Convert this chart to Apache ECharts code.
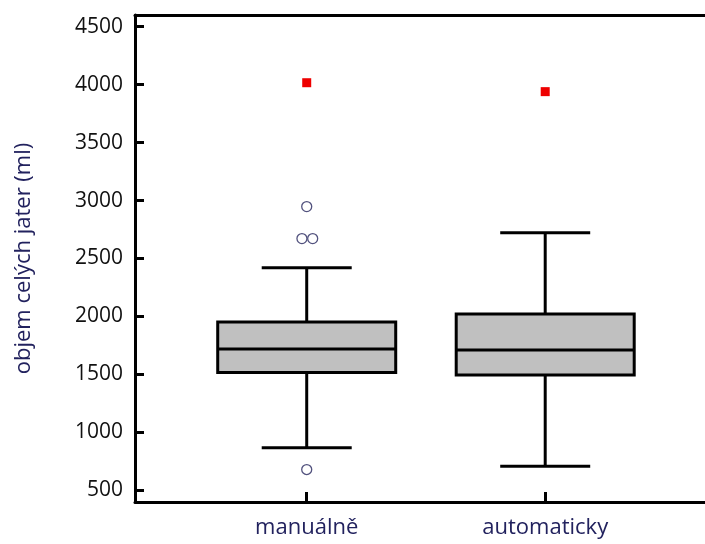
<!DOCTYPE html>
<html>
<head>
<meta charset="utf-8">
<script src="https://cdn.jsdelivr.net/npm/echarts@6/dist/echarts.min.js"></script>
<style>
  html, body { margin: 0; padding: 0; background: #fff; }
  #chart { width: 705px; height: 544px; }
</style>
</head>
<body>
<div id="chart"></div>
<script>
// values (ml)
const categories = ['manuálně', 'automaticky'];
const whiskerLow = [867, 709];
const q1 = [1517, 1495];
const median = [1719, 1711];
const q3 = [1952, 2022];
const whiskerHigh = [2421, 2721];
// outliers: [group position, value]; the two at 2672 sit side by side
const outliers = [[1, 2948], [0.98, 2672], [1.025, 2672], [1, 680]];
const extremes = [[1, 4016], [2, 3939]];
const yTicks = [500, 1000, 1500, 2000, 2500, 3000, 3500, 4000, 4500];
const xTicks = [1, 2];

const font = '"Open Sans", "Noto Sans", sans-serif';
const navy = '#22225e';

const boxData = categories.map((c, i) => [i + 1, whiskerLow[i], q1[i], median[i], q3[i], whiskerHigh[i]]);

function renderBox(params, api) {
    const x = api.value(0);
    const pLow = api.coord([x, api.value(1)]);
    const pQ1 = api.coord([x, api.value(2)]);
    const pMed = api.coord([x, api.value(3)]);
    const pQ3 = api.coord([x, api.value(4)]);
    const pHigh = api.coord([x, api.value(5)]);
    const half = 89;
    const capHalf = 45;
    const ls = { stroke: '#000', lineWidth: 3 };
    return {
        type: 'group',
        children: [
            { type: 'line', shape: { x1: pLow[0], y1: pLow[1], x2: pQ1[0], y2: pQ1[1] }, style: ls },
            { type: 'line', shape: { x1: pQ3[0], y1: pQ3[1], x2: pHigh[0], y2: pHigh[1] }, style: ls },
            { type: 'line', shape: { x1: pLow[0] - capHalf, y1: pLow[1], x2: pLow[0] + capHalf, y2: pLow[1] }, style: ls },
            { type: 'line', shape: { x1: pHigh[0] - capHalf, y1: pHigh[1], x2: pHigh[0] + capHalf, y2: pHigh[1] }, style: ls },
            {
                type: 'rect',
                shape: { x: pQ3[0] - half, y: pQ3[1], width: half * 2, height: pQ1[1] - pQ3[1] },
                style: { fill: '#c0c0c0', stroke: '#000', lineWidth: 3 }
            },
            { type: 'line', shape: { x1: pMed[0] - half, y1: pMed[1], x2: pMed[0] + half, y2: pMed[1] }, style: ls }
        ]
    };
}

const chart = echarts.init(document.getElementById('chart'));

const option = {
    animation: false,
    grid: {
        left: 135,
        right: 0,
        top: 15,
        bottom: 42,
        containLabel: false,
        outerBoundsMode: 'none'
    },
    xAxis: [
        {
            type: 'value',
            min: 0.28,
            max: 2.67,
            position: 'bottom',
            axisLine: { show: true, lineStyle: { color: '#000', width: 3 } },
            axisTick: {
                show: true,
                inside: true,
                length: 10,
                customValues: xTicks,
                lineStyle: { color: '#000', width: 3 }
            },
            axisLabel: {
                customValues: xTicks,
                formatter: v => categories[Math.round(v) - 1],
                color: navy,
                fontFamily: font,
                fontSize: 22,
                margin: 15
            },
            splitLine: { show: false }
        },
        {
            type: 'value',
            min: 0.28,
            max: 2.67,
            position: 'top',
            axisLine: { show: true, lineStyle: { color: '#000', width: 3 } },
            axisTick: { show: false },
            axisLabel: { show: false },
            splitLine: { show: false }
        }
    ],
    yAxis: {
        type: 'value',
        min: 400,
        max: 4600,
        name: 'objem celých jater (ml)',
        nameLocation: 'middle',
        nameGap: 100,
        nameTextStyle: { color: navy, fontFamily: font, fontSize: 22 },
        axisLine: { show: true, lineStyle: { color: '#000', width: 3 } },
        axisTick: {
            show: true,
            inside: true,
            length: 9,
            customValues: yTicks,
            lineStyle: { color: '#000', width: 3 }
        },
        axisLabel: {
            customValues: yTicks,
            formatter: v => String(v),
            color: '#111',
            fontFamily: font,
            fontSize: 21,
            margin: 12
        },
        splitLine: { show: false }
    },
    series: [
        {
            type: 'custom',
            renderItem: renderBox,
            encode: { x: 0, y: [1, 2, 3, 4, 5] },
            data: boxData,
            z: 2
        },
        {
            type: 'scatter',
            data: outliers,
            symbol: 'circle',
            symbolSize: 10,
            itemStyle: { color: '#fff', borderColor: '#52527e', borderWidth: 1.3, opacity: 1 },
            z: 3
        },
        {
            type: 'scatter',
            data: extremes,
            symbol: 'rect',
            symbolSize: 9,
            itemStyle: { color: '#ee0000', opacity: 1 },
            z: 3
        }
    ]
};

chart.setOption(option);
</script>
</body>
</html>
